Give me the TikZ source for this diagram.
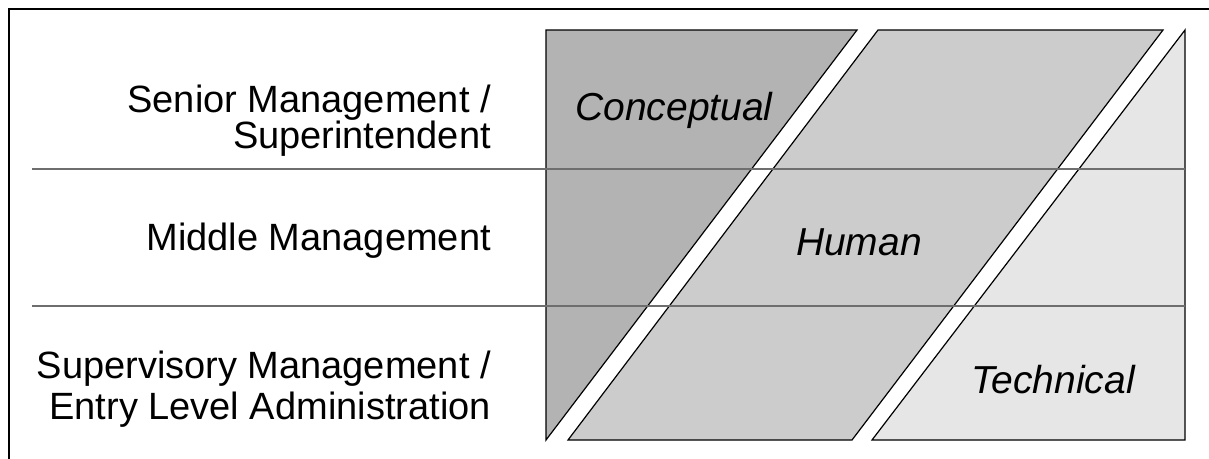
\documentclass[tikz,border=0pt]{standalone}
\usepackage{fontspec}
\setmainfont{Liberation Sans}
\definecolor{conceptfill}{HTML}{B3B3B3}
\definecolor{humanfill}{HTML}{CCCCCC}
\definecolor{techfill}{HTML}{E6E6E6}
\definecolor{rulegray}{HTML}{6E6E6E}
\begin{document}
\begin{tikzpicture}[x=1pt,y=-1pt,
  skillarea/.style={draw=black,line width=1.2pt,line join=miter},
  levelrule/.style={draw=rulegray,line width=1.2pt},
  levellabel/.style={anchor=base east,inner sep=0pt,font=\fontsize{38}{38}\selectfont},
  skilllabel/.style={anchor=base,inner sep=0pt,font=\fontsize{39}{39}\selectfont\itshape}]
\clip (0,0) rectangle (1209,458);
\fill[white] (0,0) rectangle (1209,458);
% outer frame (runs off the right and bottom edges)
\draw[line width=2.5pt] (9,9) rectangle (1240,490);

% corner points of the three skill areas
\coordinate (cTL) at (546,30);
\coordinate (cTR) at (857,30);
\coordinate (cB)  at (546,440);
\coordinate (hTL) at (878,30);
\coordinate (hTR) at (1163,30);
\coordinate (hBR) at (852,440);
\coordinate (hBL) at (568,440);
\coordinate (tT)  at (1185,30);
\coordinate (tBR) at (1185,440);
\coordinate (tBL) at (872,440);

\path[skillarea,fill=conceptfill] (cTL) -- (cTR) -- (cB) -- cycle;
\path[skillarea,fill=humanfill] (hTL) -- (hTR) -- (hBR) -- (hBL) -- cycle;
\path[skillarea,fill=techfill] (tT) -- (tBR) -- (tBL) -- cycle;

% level separators
\coordinate (r1a) at (32,169);
\coordinate (r1b) at (1185,169);
\coordinate (r2a) at (32,306);
\coordinate (r2b) at (1185,306);
\draw[levelrule] (r1a) -- (r1b);
\draw[levelrule] (r2a) -- (r2b);

% management levels
\node[levellabel] (senior1) at (491,112) {Senior Management /};
\node[levellabel] (senior2) at (491,148) {Superintendent};
\node[levellabel] (middle) at (491,250) {Middle Management};
\node[levellabel] (super1) at (491,378) {Supervisory Management /};
\node[levellabel] (super2) at (491,419) {Entry Level Administration};

% skill names
\node[skilllabel] (conceptual) at (674,120) {Conceptual};
\node[skilllabel] (human) at (859,255) {Human};
\node[skilllabel] (technical) at (1053,393) {Technical};
\end{tikzpicture}
\end{document}
